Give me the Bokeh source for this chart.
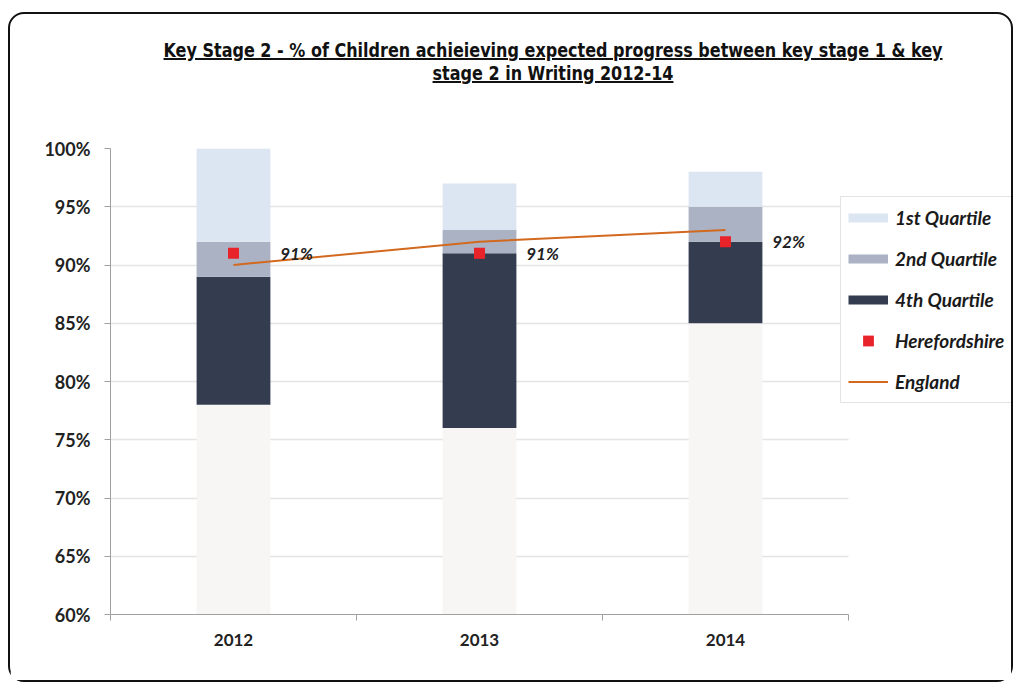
import numpy as np
from bokeh.plotting import figure
from bokeh.models import (Div, FixedTicker, PrintfTickFormatter, Legend, LegendItem,
                          ColumnDataSource, Range1d)
from bokeh.layouts import column
from bokeh.core.properties import value
from bokeh.embed import file_html
from bokeh.resources import INLINE

# ---- data ----
years = ["2012", "2013", "2014"]
q4_bottom = [78, 76, 85]      # top of the faint base / bottom of 4th quartile
q4_top = [89, 91, 92]
q2_top = [92, 93, 95]
q1_top = [100, 97, 98]
herefordshire = [91, 91, 92]
england = [90, 92, 93]
label_texts = ["91%", "91%", "92%"]
y_ticks = [60, 65, 70, 75, 80, 85, 90, 95, 100]

title_l1 = "Key Stage 2 - % of Children achieieving expected progress between key stage 1 &amp; key"
title_l2 = "stage 2 in Writing 2012-14"

FONT = "Lato"
C_Q1, C_Q2, C_Q4, C_BASE = "#dce6f2", "#aab2c4", "#343d4f", "#f8f6f4"
C_HERE, C_ENG = "#e8232a", "#d2691e"

# layout (pixels)
FIG_W, FIG_H = 1001, 586
MB_L, MB_R, MB_T, MB_B = 100, 0, 54, 66
PLOT_W = 738                      # width of the category area inside the frame
n = len(years)
frame_w = FIG_W - MB_L - MB_R
x_end = n * frame_w / PLOT_W

x = np.arange(n) + 0.5
base = [60] * n

src = ColumnDataSource(dict(x=x, base=base, q4b=q4_bottom, q4t=q4_top, q2t=q2_top, q1t=q1_top,
                            here=herefordshire, eng=england, lab=label_texts,
                            labx=x + 0.19))

p = figure(width=FIG_W, height=FIG_H, output_backend="svg", toolbar_location=None,
           x_range=Range1d(0, x_end), y_range=Range1d(60, 100),
           min_border_left=MB_L, min_border_right=MB_R, min_border_top=MB_T, min_border_bottom=MB_B)
p.outline_line_color = None
p.background_fill_color = "white"
p.border_fill_color = "white"
p.margin = 0

W = 0.3
p.vbar(x="x", bottom="base", top="q4b", width=W, source=src, fill_color=C_BASE, line_color=None)
p.vbar(x="x", bottom="q4b", top="q4t", width=W, source=src, fill_color=C_Q4, line_color=None)
p.vbar(x="x", bottom="q4t", top="q2t", width=W, source=src, fill_color=C_Q2, line_color=None)
p.vbar(x="x", bottom="q2t", top="q1t", width=W, source=src, fill_color=C_Q1, line_color=None)
r_eng = p.line(x="x", y="eng", source=src, line_color=C_ENG, line_width=2)
r_here = p.scatter(x="x", y="here", source=src, marker="square", size=11,
                   fill_color=C_HERE, line_color=None)
p.text(x="labx", y="here", text="lab", source=src, text_font=value(FONT),
       text_font_style="bold italic", text_font_size="17px", text_color="#222222",
       text_baseline="middle", text_align="left")

# legend swatches (renderers without drawable points, used only for the legend's bar-like keys)
empty = ColumnDataSource(dict(x=[np.nan], y=[np.nan]))
k_q1 = p.line(x="x", y="y", source=empty, line_color=C_Q1, line_width=9)
k_q2 = p.line(x="x", y="y", source=empty, line_color=C_Q2, line_width=9)
k_q4 = p.line(x="x", y="y", source=empty, line_color=C_Q4, line_width=9)

# axes / grid
p.xgrid.visible = False
p.ygrid.grid_line_color = "#e4e4e4"
p.ygrid.grid_line_width = 1.5
p.ygrid.ticker = FixedTicker(ticks=y_ticks)
p.ygrid.cross_bounds = (0, n)

ya = p.yaxis[0]
ya.ticker = FixedTicker(ticks=y_ticks)
ya.formatter = PrintfTickFormatter(format="%d%%")
ya.axis_line_color = "#a0a0a0"
ya.major_tick_line_color = "#a0a0a0"
ya.major_tick_out = 6
ya.major_tick_in = 0
ya.minor_tick_line_color = None
ya.major_label_standoff = 14
ya.major_label_text_font = FONT
ya.major_label_text_font_size = "18px"
ya.major_label_text_font_style = "bold"
ya.major_label_text_color = "#222222"

xa = p.xaxis[0]
xa.bounds = (0, n)
xa.ticker = FixedTicker(ticks=list(x), minor_ticks=list(range(n + 1)))
xa.major_label_overrides = {float(v): y for v, y in zip(x, years)}
xa.axis_line_color = "#a0a0a0"
xa.major_tick_line_color = None
xa.major_tick_out = 0
xa.minor_tick_line_color = "#a0a0a0"
xa.minor_tick_out = 6
xa.minor_tick_in = 0
xa.major_label_standoff = 13
xa.major_label_text_font = FONT
xa.major_label_text_font_size = "17px"
xa.major_label_text_font_style = "bold"
xa.major_label_text_color = "#222222"

legend = Legend(items=[
    LegendItem(label="1st Quartile", renderers=[k_q1]),
    LegendItem(label="2nd Quartile", renderers=[k_q2]),
    LegendItem(label="4th Quartile", renderers=[k_q4]),
    LegendItem(label="Herefordshire", renderers=[r_here]),
    LegendItem(label="England", renderers=[r_eng]),
], location=(730, 211))
legend.margin = 0
legend.padding = 7
legend.spacing = 14
legend.label_height = 20
legend.glyph_height = 27
legend.glyph_width = 40
legend.label_standoff = 7
legend.label_text_font = FONT
legend.label_text_font_style = "bold italic"
legend.label_text_font_size = "19px"
legend.label_text_color = "#1a1a1a"
legend.border_line_color = "#c8c8c8"
legend.border_line_width = 1
legend.background_fill_color = "white"
legend.background_fill_alpha = 1.0
p.add_layout(legend, "center")

title = Div(
    text=("<div style=\"position:relative; width:%dpx; height:80px;\">"
          "<div style=\"position:absolute; left:543px; top:25px; white-space:nowrap; text-align:center;"
          "transform:translateX(-50%%) scaleX(0.89); transform-origin:center;"
          "font-family:'Liberation Sans Narrow','DejaVu Sans Condensed',sans-serif;"
          "font-weight:bold; font-size:20px; text-decoration:underline; line-height:23px; color:#111;\">"
          % FIG_W
          + title_l1 + "<br>" + title_l2 + "</div></div>"),
    width=FIG_W, height=80, margin=0)

layout = column(title, p, styles={"border": "2px solid #111", "border-radius": "16px",
                                  "margin-left": "8px", "margin-top": "12px",
                                  "background": "white"})

open("out.html", "w").write(file_html(layout, INLINE))
